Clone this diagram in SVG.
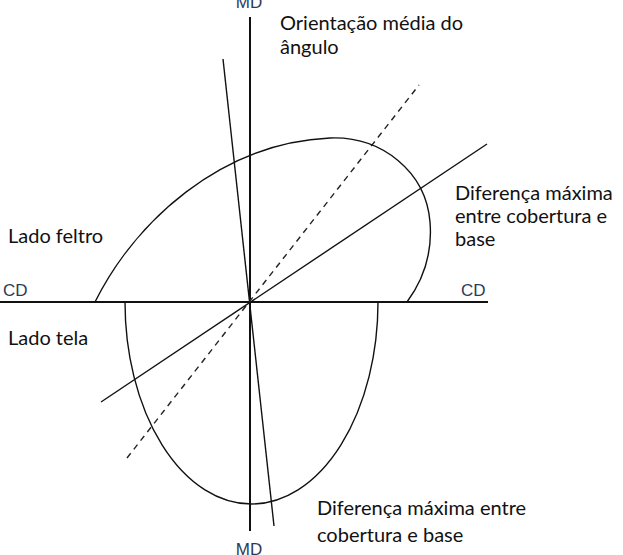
<svg xmlns="http://www.w3.org/2000/svg" width="623" height="555" viewBox="0 0 623 555">
<style>
.ln{fill:none;stroke:#111;stroke-width:1.4}
.ax{fill:none;stroke:#111;stroke-width:2}
.dash{fill:none;stroke:#222;stroke-width:1.4;stroke-dasharray:6,5}
.lbl{font-family:Lato,"Open Sans",sans-serif;font-size:20px;fill:#111}
.axl{font-family:"Liberation Sans",Arial,sans-serif;font-size:17px;fill:#2d3b57}
</style>
<rect width="623" height="555" fill="#fff"/>
<g id="connectors">
<line class="ax" x1="0" y1="302" x2="488" y2="302"/>
<line class="ax" x1="250" y1="17" x2="250" y2="531"/>
<line class="ln" x1="223" y1="59" x2="274" y2="526"/>
<line class="ln" x1="101" y1="402" x2="487" y2="144"/>
<line class="dash" x1="127" y1="458" x2="419" y2="85"/>
<path id="upper" class="ln" d="M95,302 C135,222 220,143 330,138 C382,136 426,172 430,222 C433,258 421,283 407,302"/>
<path id="lower" class="ln" d="M125,302 A126.5,202 0 0 0 378,302"/>
</g>
<g id="axis-labels">
<text class="axl" x="249" y="8" text-anchor="middle">MD</text>
<text class="axl" x="249" y="555" text-anchor="middle">MD</text>
<text class="axl" x="3" y="296">CD</text>
<text class="axl" x="461" y="296">CD</text>
</g>
<g id="label-orientacao">
<text class="lbl" x="280" y="30">Orientação média do</text>
<text class="lbl" x="280" y="54">ângulo</text>
</g>
<g id="label-dif-right">
<text class="lbl" x="455" y="200">Diferença máxima</text>
<text class="lbl" x="455" y="223">entre cobertura e</text>
<text class="lbl" x="455" y="246">base</text>
</g>
<g id="label-dif-bottom">
<text class="lbl" x="317" y="515">Diferença máxima entre</text>
<text class="lbl" x="317" y="542">cobertura e base</text>
</g>
<g id="label-feltro"><text class="lbl" x="8" y="243">Lado feltro</text></g>
<g id="label-tela"><text class="lbl" x="8" y="345">Lado tela</text></g>
</svg>
